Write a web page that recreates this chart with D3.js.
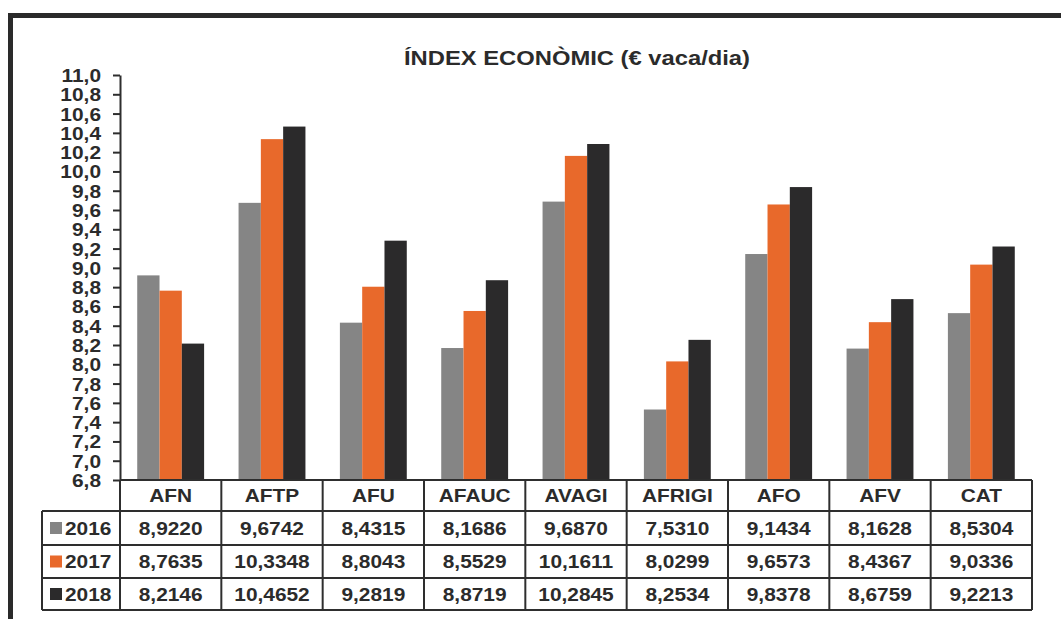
<!DOCTYPE html>
<html>
<head>
<meta charset="utf-8">
<script src="https://cdn.jsdelivr.net/npm/d3@7/dist/d3.min.js"></script>
<style>
  html, body { margin: 0; padding: 0; background: #ffffff; }
  svg { display: block; }
  text { font-family: "Liberation Sans", Arial, sans-serif; font-weight: bold; fill: #2b2b2b; }
</style>
</head>
<body>
<svg id="chart" width="1061" height="619"></svg>
<script>
const title = "ÍNDEX ECONÒMIC (€ vaca/dia)";
const categories = ["AFN", "AFTP", "AFU", "AFAUC", "AVAGI", "AFRIGI", "AFO", "AFV", "CAT"];
const years = ["2016", "2017", "2018"];
const values2016 = [8.9220, 9.6742, 8.4315, 8.1686, 9.6870, 7.5310, 9.1434, 8.1628, 8.5304];
const values2017 = [8.7635, 10.3348, 8.8043, 8.5529, 10.1611, 8.0299, 9.6573, 8.4367, 9.0336];
const values2018 = [8.2146, 10.4652, 9.2819, 8.8719, 10.2845, 8.2534, 9.8378, 8.6759, 9.2213];
const yTickValues = [6.8, 7.0, 7.2, 7.4, 7.6, 7.8, 8.0, 8.2, 8.4, 8.6, 8.8, 9.0, 9.2, 9.4, 9.6, 9.8, 10.0, 10.2, 10.4, 10.6, 10.8, 11.0];
const colors = ["#858585", "#e8692b", "#2b2a2b"];

const series = [values2016, values2017, values2018];
const SX = 1.16; // horizontal glyph stretch seen in the reference

const svg = d3.select("#chart");

// layout
const plotLeft = 120, plotRight = 1032, plotTop = 75, plotBottom = 480;
const tableLeft = 42;
const rowBounds = [480, 511, 545, 578, 610];
const lineColor = "#2e2e2e";

// frame
svg.append("line").attr("x1", 8).attr("x2", 1061).attr("y1", 15.5).attr("y2", 15.5)
  .attr("stroke", "#2a2a2a").attr("stroke-width", 5);
svg.append("line").attr("x1", 10.5).attr("x2", 10.5).attr("y1", 13).attr("y2", 619)
  .attr("stroke", "#2a2a2a").attr("stroke-width", 5);

// title
svg.append("text")
  .attr("transform", `translate(577,65) scale(${SX},1)`)
  .attr("text-anchor", "middle")
  .style("font-size", "20.5px")
  .text(title);

// scales
const y = d3.scaleLinear().domain([6.8, 11.0]).range([plotBottom, plotTop]);
const x = d3.scaleBand().domain(categories).range([plotLeft, plotRight]).paddingInner(0).paddingOuter(0);
const bw = x.bandwidth();
const xSub = d3.scaleBand().domain(years).range([bw * 0.17, bw * 0.83]).paddingInner(0);

// bars
const groups = svg.append("g").selectAll("g")
  .data(categories)
  .join("g")
  .attr("transform", d => `translate(${x(d)},0)`);

groups.selectAll("rect")
  .data((d, i) => years.map((yr, j) => ({ yr, v: series[j][i], j })))
  .join("rect")
  .attr("x", d => xSub(d.yr))
  .attr("width", xSub.bandwidth())
  .attr("y", d => y(d.v))
  .attr("height", d => y(6.8) - y(d.v))
  .attr("fill", d => colors[d.j]);

// y axis
const fmt1 = d => d3.format(".1f")(d).replace(".", ",");
const yAxis = d3.axisLeft(y).tickValues(yTickValues).tickSize(7).tickSizeOuter(0).tickFormat(fmt1);
const ax = svg.append("g").attr("transform", `translate(${plotLeft},0)`).call(yAxis);
ax.select(".domain").attr("stroke", lineColor).attr("stroke-width", 2);
ax.selectAll(".tick line").attr("stroke", lineColor).attr("stroke-width", 2);
ax.selectAll(".tick text")
  .attr("x", null).attr("dy", null)
  .attr("transform", `translate(-19,6.5) scale(${SX},1)`)
  .attr("text-anchor", "end")
  .style("font-size", "18px")
  .style("font-family", "'Liberation Sans', Arial, sans-serif")
  .style("font-weight", "bold")
  .attr("fill", "#2b2b2b");

// table grid
const grid = svg.append("g").attr("stroke", lineColor).attr("stroke-width", 2).attr("fill", "none");
grid.append("line").attr("x1", plotLeft).attr("x2", plotRight).attr("y1", rowBounds[0]).attr("y2", rowBounds[0]);
for (let r = 1; r < rowBounds.length; r++) {
  grid.append("line").attr("x1", tableLeft).attr("x2", plotRight).attr("y1", rowBounds[r]).attr("y2", rowBounds[r]);
}
grid.append("line").attr("x1", tableLeft).attr("x2", tableLeft).attr("y1", rowBounds[1]).attr("y2", rowBounds[4]);
categories.forEach(c => {
  grid.append("line").attr("x1", x(c)).attr("x2", x(c)).attr("y1", rowBounds[0]).attr("y2", rowBounds[4]);
});
grid.append("line").attr("x1", plotRight).attr("x2", plotRight).attr("y1", rowBounds[0]).attr("y2", rowBounds[4]);

// header row
svg.append("g").selectAll("text")
  .data(categories)
  .join("text")
  .attr("transform", d => `translate(${x(d) + bw / 2},${(rowBounds[0] + rowBounds[1]) / 2 + 6.5}) scale(${SX},1)`)
  .attr("text-anchor", "middle")
  .style("font-size", "18px")
  .text(d => d);

// data rows
const fmt4 = d => d3.format(".4f")(d).replace(".", ",");
years.forEach((yr, j) => {
  const cy = (rowBounds[j + 1] + rowBounds[j + 2]) / 2;
  svg.append("rect").attr("x", 50).attr("y", cy - 6).attr("width", 12).attr("height", 12).attr("fill", colors[j]);
  svg.append("text")
    .attr("transform", `translate(65,${cy + 6.5}) scale(${SX},1)`)
    .style("font-size", "18px")
    .text(yr);
  svg.append("g").selectAll("text")
    .data(series[j])
    .join("text")
    .attr("transform", (d, i) => `translate(${x(categories[i]) + bw / 2},${cy + 6.5}) scale(${SX},1)`)
    .attr("text-anchor", "middle")
    .style("font-size", "18px")
    .text(d => fmt4(d));
});
</script>
</body>
</html>
